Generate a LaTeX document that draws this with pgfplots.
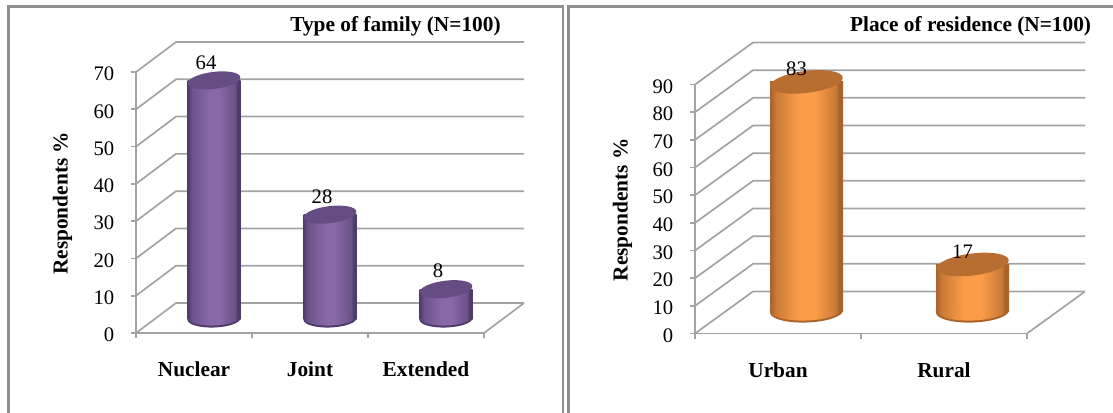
\documentclass[border=0pt]{standalone}
\usepackage{pgfplots}
\pgfplotsset{compat=1.18}
\usepackage{fontspec}
\setmainfont{Liberation Serif}

% all lengths below are in picture pixels
\newdimen\pxu \pxu=0.75pt

\definecolor{wallgrey}{HTML}{A3A3A3}
\definecolor{framegrey}{HTML}{8F8F8F}
\definecolor{purpletop}{HTML}{654C82}
\definecolor{purplerim}{HTML}{4F3B6B}
\definecolor{purpleedge}{HTML}{6A5288}
\definecolor{purplelight}{HTML}{8A69A9}
\definecolor{orangetop}{HTML}{B86E30}
\definecolor{orangerim}{HTML}{A9622A}
\definecolor{orangeedge}{HTML}{C97A36}
\definecolor{orangelight}{HTML}{FB9C48}

% horizontal shadings of the cylinder walls
\pgfdeclarehorizontalshading{wallpurple}{100bp}{
  color(0bp)=(purplerim);
  color(25bp)=(purplerim);
  color(29bp)=(purpleedge);
  color(46bp)=(purplelight);
  color(54bp)=(purplelight);
  color(70bp)=(purpleedge);
  color(72bp)=(purplerim);
  color(75bp)=(purplerim);
  color(100bp)=(purplerim)}
\pgfdeclarehorizontalshading{wallorange}{100bp}{
  color(0bp)=(orangerim);
  color(25bp)=(orangerim);
  color(29bp)=(orangeedge);
  color(44bp)=(orangelight);
  color(56bp)=(orangelight);
  color(70bp)=(orangeedge);
  color(72bp)=(orangerim);
  color(75bp)=(orangerim);
  color(100bp)=(orangerim)}

% tilted elliptical caps of a cylinder, one pair per chart
\newcommand\capmarks[5]{% name, half width, half height, rim, wall shading
  \pgfdeclareplotmark{top#1}{%
    \pgftransformrotate{7}%
    \pgfpathellipse{\pgfpointorigin}{\pgfpoint{#2*\pxu}{0pt}}{\pgfpoint{0pt}{#3*\pxu}}%
    \pgfsetfillcolor{#1top}\pgfusepathqfill}%
  \pgfdeclareplotmark{base#1}{%
    \pgftransformrotate{2}%
    \pgfpathmoveto{\pgfpoint{-#2*\pxu}{2\pxu}}%
    \pgfpathlineto{\pgfpoint{-#2*\pxu}{0pt}}%
    \pgfpatharc{180}{360}{#2*\pxu and #3*\pxu}%
    \pgfpathlineto{\pgfpoint{#2*\pxu}{2\pxu}}\pgfpathclose
    \pgfsetfillcolor{#4}\pgfusepathqfill
    \pgfpathmoveto{\pgfpoint{-#2*\pxu}{4\pxu}}%
    \pgfpathlineto{\pgfpoint{-#2*\pxu}{2\pxu}}%
    \pgfpatharc{180}{360}{#2*\pxu and #3*\pxu}%
    \pgfpathlineto{\pgfpoint{#2*\pxu}{4\pxu}}\pgfpathclose
    \pgfshadepath{#5}{0}\pgfusepath{discard}}%
}
\capmarks{purple}{26.5}{8.5}{purplerim}{wallpurple}
\capmarks{orange}{36.5}{11}{orangerim}{wallorange}

\tikzset{wall/.style={draw=wallgrey, line width=1.7\pxu}}

\pgfplotsset{
  panel/.style={
    scale only axis, clip=false, anchor=south west,
    axis lines=left, axis line style={-, draw=wallgrey, line width=1.7\pxu},
    ymin=0, xmin=0,
    ytick distance=10,
    tick style={draw=wallgrey, line width=1.7\pxu},
    major tick length=5\pxu,
    x tick style={draw=none},
    minor x tick style={draw=wallgrey, line width=1.7\pxu},
    minor tick length=5\pxu,
    tick align=outside, tick pos=left,
    /pgf/number format/assume math mode=true,
    tick label style={font=\fontsize{15.5pt}{18pt}\selectfont},
    x tick label style={font=\fontsize{16pt}{18pt}\selectfont\bfseries, yshift=-19\pxu},
    y tick label style={xshift=-12\pxu, yshift=-2\pxu},
    ylabel={Respondents \%},
    ylabel style={font=\fontsize{16pt}{18pt}\selectfont\bfseries},
    title style={font=\fontsize{16pt}{18pt}\selectfont\bfseries, anchor=center},
    nodes near coords style={font=\fontsize{15.5pt}{18pt}\selectfont, anchor=center},
  },
}

\begin{document}
\begin{tikzpicture}
\path[use as bounding box] (0,0) rectangle (1113\pxu,412\pxu);

% panel frames, open at the bottom of the page
\draw[framegrey, line width=2.4\pxu] (8.5\pxu,-8\pxu) -- (8.5\pxu,405.5\pxu) -- (563\pxu,405.5\pxu) -- (563\pxu,-8\pxu);
\draw[framegrey, line width=2.4\pxu] (568.5\pxu,-8\pxu) -- (568.5\pxu,405.5\pxu) -- (1120\pxu,405.5\pxu);

\begin{axis}[panel,
  at={(136\pxu,79\pxu)}, width=348\pxu, height=261\pxu,
  xmax=3, ymax=70,
  xtick={0.5,1.5,2.5}, xticklabels={Nuclear,Joint,Extended},
  minor xtick={0,1,2,3},
  title={Type of family (N=100)},
  title style={at={(axis description cs:0.7457,1.145)}},
  ylabel style={at={(axis description cs:-0.17,0.497)}},
]
  \pgfplotsinvokeforeach{0,10,...,70}{
    \draw[wall] (axis cs:0,#1) -- ++(40\pxu,30\pxu) -- ++(348\pxu,0pt);
  }
  \draw[wall] (axis cs:3,0) -- ++(40\pxu,30\pxu);

  \addplot[only marks, mark=basepurple, xshift=20\pxu, yshift=14\pxu]
    coordinates {(0.5,0) (1.5,0) (2.5,0)};
  \addplot[ybar, bar width=53\pxu, bar shift=0pt, draw=none, shading=wallpurple, xshift=20\pxu, yshift=14\pxu]
    coordinates {(0.5,64)};
  \addplot[ybar, bar width=53\pxu, bar shift=0pt, draw=none, shading=wallpurple, xshift=20\pxu, yshift=14\pxu]
    coordinates {(1.5,28)};
  \addplot[ybar, bar width=53\pxu, bar shift=0pt, draw=none, shading=wallpurple, xshift=20\pxu, yshift=14\pxu]
    coordinates {(2.5,8)};
  \addplot[only marks, mark=toppurple, xshift=20\pxu, yshift=14\pxu,
    nodes near coords, nodes near coords style={xshift=-8\pxu, yshift=18\pxu}]
    coordinates {(0.5,64) (1.5,28) (2.5,8)};
\end{axis}

\begin{axis}[panel,
  at={(695\pxu,78.5\pxu)}, width=332\pxu, height=249\pxu,
  xmax=2, ymax=90,
  xtick={0.5,1.5}, xticklabels={Urban,Rural},
  minor xtick={0,1,2},
  title={Place of residence (N=100)},
  title style={at={(axis description cs:0.83,1.202)}},
  ylabel style={at={(axis description cs:-0.175,0.497)}},
]
  \pgfplotsinvokeforeach{0,10,...,90}{
    \draw[wall] (axis cs:0,#1) -- ++(58\pxu,42\pxu) -- ++(332\pxu,0pt);
  }
  \draw[wall] (axis cs:2,0) -- ++(58\pxu,42\pxu);

  \addplot[only marks, mark=baseorange, xshift=28.5\pxu, yshift=22\pxu]
    coordinates {(0.5,0) (1.5,0)};
  \addplot[ybar, bar width=73\pxu, bar shift=0pt, draw=none, shading=wallorange, xshift=28.5\pxu, yshift=22\pxu]
    coordinates {(0.5,83)};
  \addplot[ybar, bar width=73\pxu, bar shift=0pt, draw=none, shading=wallorange, xshift=28.5\pxu, yshift=22\pxu]
    coordinates {(1.5,17)};
  \addplot[only marks, mark=toporange, xshift=28.5\pxu, yshift=22\pxu,
    nodes near coords, nodes near coords style={xshift=-10\pxu, yshift=13\pxu}]
    coordinates {(0.5,83) (1.5,17)};
\end{axis}
\end{tikzpicture}
\end{document}
